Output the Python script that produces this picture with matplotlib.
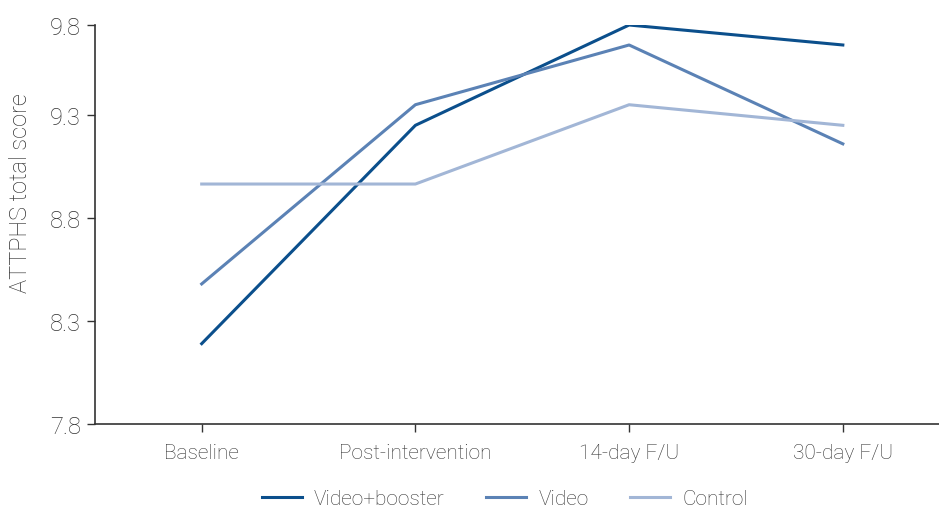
import matplotlib
matplotlib.use("Agg")
import matplotlib.pyplot as plt

plt.rcParams['font.family'] = ['Roboto', 'DejaVu Sans']
plt.rcParams['font.weight'] = 'light'
plt.rcParams['axes.labelweight'] = 'light'

timepoints = ["Baseline", "Post-intervention", "14-day F/U", "30-day F/U"]
video_booster = [8.19, 9.25, 9.737, 9.64]
video = [8.48, 9.35, 9.64, 9.16]
control = [8.965, 8.965, 9.35, 9.25]

ytick_pos = [7.8, 8.3, 8.8, 9.3, 9.737]
ytick_labels = ["7.8", "8.3", "8.8", "9.3", "9.8"]

fig = plt.figure(figsize=(9.39, 5.10), dpi=100)
ax = fig.add_axes([0.101, 0.1667, 0.899, 0.7823])

x = range(len(timepoints))
ax.plot(x, video_booster, color="#0b4f8c", lw=2.2, label="Video+booster")
ax.plot(x, video, color="#5b82b5", lw=2.2, label="Video")
ax.plot(x, control, color="#a2b6d6", lw=2.2, label="Control")

ax.set_xlim(-0.5, 3.45)
ax.set_ylim(7.8, 9.737)
ax.set_xticks(list(x))
ax.set_xticklabels(timepoints)
ax.set_yticks(ytick_pos)
ax.set_yticklabels(ytick_labels)
ax.set_ylabel("ATTPHS total score", fontsize=17, color="#333333")
ax.yaxis.set_label_coords(-0.074, 0.58)

for s in ["top", "right"]:
    ax.spines[s].set_visible(False)
for s in ["left", "bottom"]:
    ax.spines[s].set_color("#333333")
    ax.spines[s].set_linewidth(1.2)
ax.tick_params(axis="both", colors="#333333", length=6, width=1)
ax.tick_params(axis="x", labelsize=15, pad=8)
ax.tick_params(axis="y", labelsize=17, pad=4)

ax.legend(loc="center", bbox_to_anchor=(0.486, -0.188), ncol=3,
          frameon=False, fontsize=15, handlelength=1.9, columnspacing=2.0,
          handletextpad=0.6, labelcolor="#333333")

fig.savefig("out.png", dpi=100)
